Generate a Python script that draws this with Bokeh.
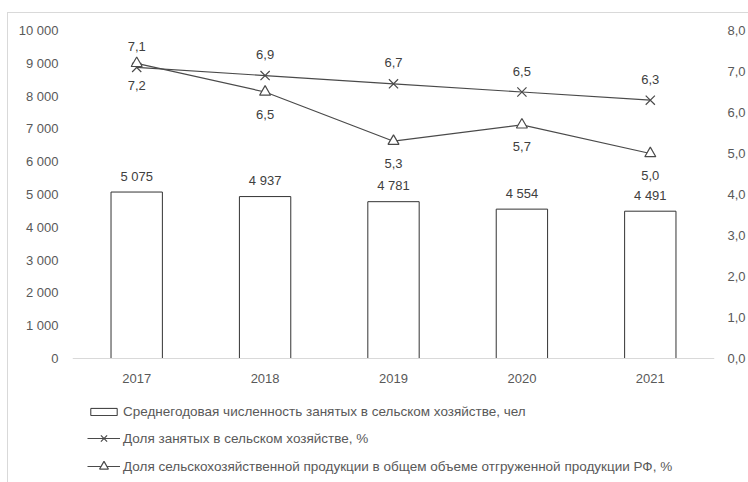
from bokeh.plotting import figure
from bokeh.models import (ColumnDataSource, Range1d, FactorRange, LinearAxis, FixedTicker,
                          Legend, LegendItem, InlineStyleSheet, Span)
from bokeh.core.properties import value
from bokeh.embed import file_html
from bokeh.resources import INLINE

years = ["2017", "2018", "2019", "2020", "2021"]
employed = [5075, 4937, 4781, 4554, 4491]
share_employed = [7.1, 6.9, 6.7, 6.5, 6.3]
share_production = [7.2, 6.5, 5.3, 5.7, 5.0]
left_ticks = [0, 1000, 2000, 3000, 4000, 5000, 6000, 7000, 8000, 9000, 10000]
right_ticks = [0, 1, 2, 3, 4, 5, 6, 7, 8]

name_bar = "Среднегодовая численность занятых в сельском хозяйстве, чел"
name_emp = "Доля занятых в сельском хозяйстве, %"
name_prod = "Доля сельскохозяйственной продукции в общем объеме отгруженной продукции РФ, %"

FONT = "Liberation Sans"
TICK_C = "#595959"
LAB_C = "#404040"
LINE_C = "#4a4a4a"
BAR_C = "#333333"

# layout geometry (pixels)
W, H = 748, 482
TOP, BOTTOM_BORDER = 30, 4
LEFT, RIGHT = 72, 33
AXIS_SPAN = 328          # pixels from value 0 to the top of the value axes
frame_h = H - TOP - BOTTOM_BORDER
below_zero = frame_h - AXIS_SPAN   # room under the zero line for tick labels and legend

L_MAX, R_MAX = 10000, 8
l_start = -below_zero * L_MAX / AXIS_SPAN
r_start = -below_zero * R_MAX / AXIS_SPAN


def thousands(v):
    return f"{v:,}".replace(",", " ")


def comma1(v):
    return f"{v:.1f}".replace(".", ",")


src = ColumnDataSource(dict(
    year=years,
    zero=[0] * len(years),
    employed=employed,
    employed_lab=[thousands(v) for v in employed],
    emp=share_employed,
    emp_lab=[comma1(v) for v in share_employed],
    prod=share_production,
    prod_lab=[comma1(v) for v in share_production],
))

p = figure(width=W, height=H, output_backend="svg", toolbar_location=None,
           x_range=FactorRange(*years, range_padding=0),
           y_range=Range1d(l_start, L_MAX), x_axis_location=None,
           min_border_left=LEFT, min_border_right=RIGHT, min_border_top=TOP,
           min_border_bottom=BOTTOM_BORDER)
p.extra_y_ranges = {"right": Range1d(r_start, R_MAX)}
p.outline_line_color = None
p.xgrid.grid_line_color = None
p.ygrid.grid_line_color = None
p.background_fill_color = None
p.border_fill_color = None
p.stylesheets = [InlineStyleSheet(css=(
    ":host{position:relative;background:white;}"
    ":host::before{content:'';position:absolute;left:7px;top:12px;right:0;bottom:0;"
    "border-left:1px solid #d9d9d9;border-top:1px solid #d9d9d9;pointer-events:none;}"
))]

# left axis
ya = p.yaxis[0]
ya.ticker = FixedTicker(ticks=left_ticks)
ya.major_label_overrides = {t: thousands(t) for t in left_ticks}
ya.axis_line_color = None
ya.major_tick_line_color = None
ya.minor_tick_line_color = None
ya.major_tick_out = 0
ya.major_label_standoff = 14
ya.major_label_text_font = FONT
ya.major_label_text_font_size = "13px"
ya.major_label_text_color = TICK_C

# right axis
ra = LinearAxis(y_range_name="right", ticker=FixedTicker(ticks=right_ticks))
ra.major_label_overrides = {t: comma1(t) for t in right_ticks}
ra.axis_line_color = None
ra.major_tick_line_color = None
ra.minor_tick_line_color = None
ra.major_tick_out = 0
ra.major_label_standoff = 13
ra.major_label_text_font = FONT
ra.major_label_text_font_size = "13px"
ra.major_label_text_color = TICK_C
p.add_layout(ra, "right")

# category baseline and labels
p.add_layout(Span(location=0, dimension="width", line_color="#d9d9d9", line_width=1))
p.text(x="year", y="zero", text="year", source=src, text_align="center",
       text_baseline="middle", y_offset=20, text_font=value(FONT), text_font_size="13px",
       text_color=TICK_C)

bars = p.vbar(x="year", top="employed", bottom=0, width=0.4, source=src,
              fill_color="white", line_color=BAR_C, line_width=1)

l1 = p.line(x="year", y="emp", source=src, y_range_name="right", line_color=LINE_C, line_width=1.2)
m1 = p.scatter(x="year", y="emp", source=src, y_range_name="right", marker="x", size=13,
               line_color=LINE_C, line_width=1.2)
l2 = p.line(x="year", y="prod", source=src, y_range_name="right", line_color=LINE_C, line_width=1.2)
m2 = p.scatter(x="year", y="prod", source=src, y_range_name="right", marker="triangle", size=11,
               line_color=LINE_C, fill_color="white", line_width=1.2)

p.text(x="year", y="employed", text="employed_lab", source=src, text_align="center",
       text_baseline="middle", y_offset=-16, text_font=value(FONT), text_font_size="13px",
       text_color=LAB_C)
p.text(x="year", y="emp", text="emp_lab", source=src, y_range_name="right", text_align="center",
       text_baseline="middle", y_offset=-21, text_font=value(FONT), text_font_size="13px",
       text_color=LAB_C)
p.text(x="year", y="prod", text="prod_lab", source=src, y_range_name="right", text_align="center",
       text_baseline="middle", y_offset=22, text_font=value(FONT), text_font_size="13px",
       text_color=LAB_C)


def style_legend(lg, glyph_h, label_h, spacing):
    lg.margin = 0
    lg.padding = 0
    lg.border_line_color = None
    lg.background_fill_alpha = 0
    lg.glyph_width = 33
    lg.glyph_height = glyph_h
    lg.label_standoff = 3
    lg.label_height = label_h
    lg.spacing = spacing
    lg.label_text_font = FONT
    lg.label_text_font_size = "13.5px"
    lg.label_text_color = TICK_C


legend_bar = Legend(items=[LegendItem(label=name_bar, renderers=[bars])],
                    location=(15, 57), orientation="vertical")
style_legend(legend_bar, 9, 20, 0)
p.add_layout(legend_bar, "center")

legend_lines = Legend(items=[
    LegendItem(label=name_emp, renderers=[l1, m1]),
    LegendItem(label=name_prod, renderers=[l2, m2]),
], location=(15, 1), orientation="vertical")
style_legend(legend_lines, 22, 22, 6)
p.add_layout(legend_lines, "center")

open("out.html", "w").write(file_html(p, INLINE))
